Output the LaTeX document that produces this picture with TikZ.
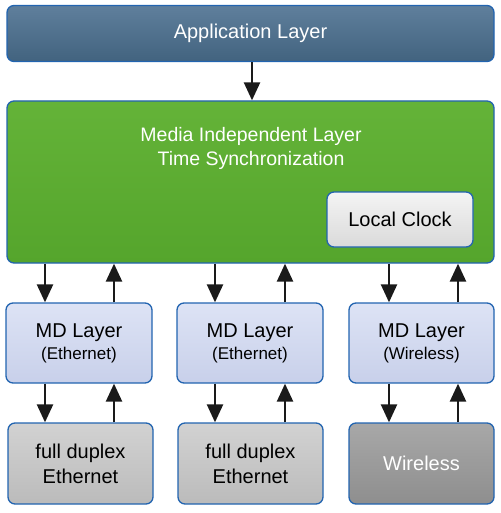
\documentclass[tikz,border=0pt]{standalone}
\usepackage{fontspec}
\setmainfont{Liberation Sans}
\usetikzlibrary{arrows.meta}
\definecolor{bordblue}{HTML}{2264B0}
\definecolor{apptop}{HTML}{5F7F9C}
\definecolor{appbot}{HTML}{42637F}
\definecolor{grtop}{HTML}{64B338}
\definecolor{grbot}{HTML}{55A52C}
\definecolor{mdtop}{HTML}{DDE3F5}
\definecolor{mdbot}{HTML}{C8D0EA}
\definecolor{phtop}{HTML}{D2D2D2}
\definecolor{phbot}{HTML}{BBBBBB}
\definecolor{wltop}{HTML}{A8A8A8}
\definecolor{wlbot}{HTML}{8E8E8E}
\definecolor{cltop}{HTML}{F4F4F4}
\definecolor{clbot}{HTML}{DADADA}
\definecolor{arrcol}{HTML}{1A1A1A}
\tikzset{
  boxbase/.style={draw=bordblue, line width=1.3pt, rounded corners=7pt, align=center, inner sep=0pt},
  appbox/.style={boxbase, top color=apptop, bottom color=appbot, text=white, font=\fontsize{20}{23}\selectfont},
  mibox/.style={boxbase, top color=grtop, bottom color=grbot},
  mdbox/.style={boxbase, top color=mdtop, bottom color=mdbot, text=black, font=\fontsize{20}{22}\selectfont},
  phbox/.style={boxbase, top color=phtop, bottom color=phbot, text=black, font=\fontsize{20}{25}\selectfont},
  wlbox/.style={boxbase, top color=wltop, bottom color=wlbot, text=white, font=\fontsize{20}{25}\selectfont},
  clbox/.style={boxbase, top color=cltop, bottom color=clbot, text=black, font=\fontsize{20}{23}\selectfont},
  arr/.style={draw=arrcol, line width=2.4pt, -{Triangle[width=16pt,length=18pt]}},
}
\newcommand{\mdtext}[1]{MD Layer\\{\fontsize{17}{22}\selectfont(#1)}}
\begin{document}
\begin{tikzpicture}[x=1pt, y=-1pt]
\useasboundingbox (0,0) rectangle (500,513);
% boxes
\node[appbox, minimum width=487pt, minimum height=56pt] (app) at (250.5,33.5) {Application Layer};
\node[mibox, minimum width=487pt, minimum height=162pt] (mi) at (250.5,182) {};
\node[text=white, align=center, font=\fontsize{19.5}{24}\selectfont] (mitext) at (251,148) {Media Independent Layer\\Time Synchronization};
\node[clbox, minimum width=146pt, minimum height=55pt] (clock) at (400,219.5) {Local Clock};
\node[mdbox, minimum width=146pt, minimum height=80pt] (md1) at (79,343) {\mdtext{Ethernet}};
\node[mdbox, minimum width=146pt, minimum height=80pt] (md2) at (250,343) {\mdtext{Ethernet}};
\node[mdbox, minimum width=145pt, minimum height=80pt] (md3) at (421.5,343) {\mdtext{Wireless}};
\node[phbox, minimum width=145pt, minimum height=81pt] (ph1) at (80.5,463.5) {full duplex\\Ethernet};
\node[phbox, minimum width=145pt, minimum height=81pt] (ph2) at (250.5,463.5) {full duplex\\Ethernet};
\node[wlbox, minimum width=145pt, minimum height=81pt] (ph3) at (421.5,463.5) {Wireless};
% arrow columns
\coordinate (c0) at (252,0);
\coordinate (d1) at (45,0);
\coordinate (u1) at (114,0);
\coordinate (d2) at (215,0);
\coordinate (u2) at (285,0);
\coordinate (d3) at (389,0);
\coordinate (u3) at (458,0);
% arrows
\draw[arr] (app.south -| c0) -- (mi.north -| c0);
\draw[arr] (mi.south -| d1) -- (md1.north -| d1);
\draw[arr] (md1.north -| u1) -- (mi.south -| u1);
\draw[arr] (mi.south -| d2) -- (md2.north -| d2);
\draw[arr] (md2.north -| u2) -- (mi.south -| u2);
\draw[arr] (mi.south -| d3) -- (md3.north -| d3);
\draw[arr] (md3.north -| u3) -- (mi.south -| u3);
\draw[arr] (md1.south -| d1) -- (ph1.north -| d1);
\draw[arr] (ph1.north -| u1) -- (md1.south -| u1);
\draw[arr] (md2.south -| d2) -- (ph2.north -| d2);
\draw[arr] (ph2.north -| u2) -- (md2.south -| u2);
\draw[arr] (md3.south -| d3) -- (ph3.north -| d3);
\draw[arr] (ph3.north -| u3) -- (md3.south -| u3);
\end{tikzpicture}
\end{document}
